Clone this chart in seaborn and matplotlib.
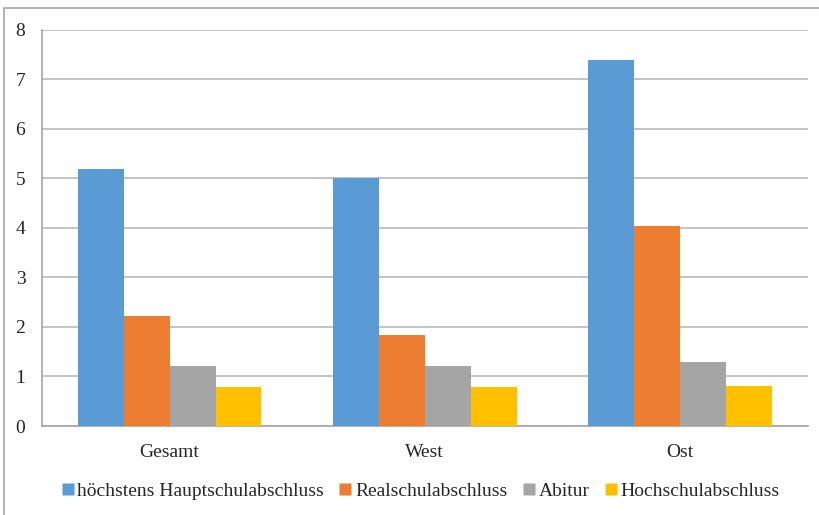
import numpy as np
import pandas as pd
import seaborn as sns
import matplotlib.pyplot as plt
from matplotlib.patches import Rectangle
from matplotlib.lines import Line2D

# Daten
regionen = ["Gesamt", "West", "Ost"]
abschluesse = ["höchstens Hauptschulabschluss", "Realschulabschluss", "Abitur", "Hochschulabschluss"]
hauptschule = [5.18, 5.0, 7.39]
realschule = [2.22, 1.84, 4.04]
abitur = [1.22, 1.21, 1.30]
hochschule = [0.78, 0.78, 0.80]
farben = ["#5B9BD5", "#ED7D31", "#A5A5A5", "#FFC000"]
y_ticks = [0, 1, 2, 3, 4, 5, 6, 7, 8]

df = pd.DataFrame({
    "Region": regionen * 4,
    "Abschluss": np.repeat(abschluesse, 3),
    "Wert": hauptschule + realschule + abitur + hochschule,
})

sns.set_style("white")
plt.rcParams['font.family'] = ['Liberation Serif', 'DejaVu Serif']

fig = plt.figure(figsize=(8.2, 5.15), dpi=100)
ax = fig.add_axes([0.0512, 0.1728, 0.9338, 0.7699])

sns.barplot(data=df, x="Region", y="Wert", hue="Abschluss", palette=farben,
            width=0.72, gap=0, edgecolor="none", linewidth=0, saturation=1,
            ax=ax, legend=False, zorder=3)

ax.set_ylim(0, 8)
ax.set_xlim(-0.5, 2.5)
ax.set_yticks(y_ticks)
ax.set_xlabel("")
ax.set_ylabel("")
ax.grid(axis='y', color='#BABABA', linewidth=1.2, zorder=0)
ax.set_axisbelow(True)

for s in ["top", "right"]:
    ax.spines[s].set_visible(False)
for s in ["left", "bottom"]:
    ax.spines[s].set_color("#A6A6A6")
    ax.spines[s].set_linewidth(1.2)

ax.tick_params(axis='y', length=5, color='#A6A6A6', width=1.2, labelsize=14, pad=7)
ax.tick_params(axis='x', which='major', length=0, labelsize=14, pad=13)
ax.set_xticks([-0.5, 0.5, 1.5, 2.5], minor=True)
ax.tick_params(axis='x', which='minor', length=5, color='#A6A6A6', width=1.2)

handles = [Line2D([], [], marker='s', linestyle='none', markersize=8.5,
                  markerfacecolor=c, markeredgecolor='none') for c in farben]
fig.legend(handles, abschluesse, loc='center', bbox_to_anchor=(0.512, 0.046),
           ncol=4, frameon=False, fontsize=14, handletextpad=0.1,
           columnspacing=0.7, handlelength=0.8)

# Rahmen wie im Original
fig.patches.append(Rectangle((4 / 820, -0.1), 1.2, 1 - 8 / 515 + 0.1,
                             transform=fig.transFigure, fill=False,
                             edgecolor='#A6A6A6', linewidth=1.2))

fig.savefig("out.png", dpi=100)
